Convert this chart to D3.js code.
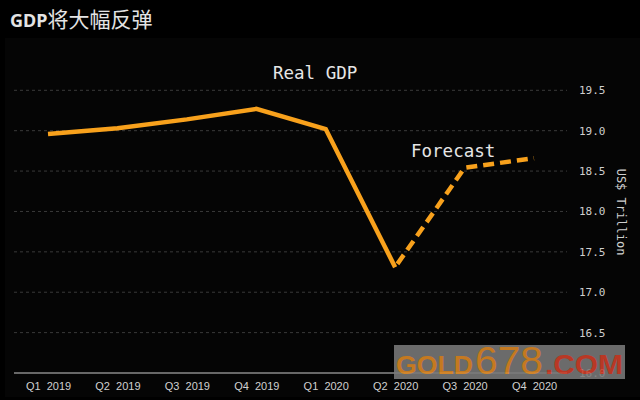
<!DOCTYPE html>
<html>
<head>
<meta charset="utf-8">
<script src="https://cdn.jsdelivr.net/npm/d3@7"></script>
<style>
  html, body { margin: 0; padding: 0; background: #000; }
  svg { display: block; }
</style>
</head>
<body>
<svg id="chart" width="640" height="400"></svg>
<script>
// ---- data ----
const quarters = ["Q1 2019", "Q2 2019", "Q3 2019", "Q4 2019", "Q1 2020", "Q2 2020", "Q3 2020", "Q4 2020"];
const actualQuarters = ["Q1 2019", "Q2 2019", "Q3 2019", "Q4 2019", "Q1 2020", "Q2 2020"];
const actualValues = [18.96, 19.03, 19.14, 19.27, 19.02, 17.31];
const forecastQuarters = ["Q2 2020", "Q3 2020", "Q4 2020"];
const forecastValues = [17.31, 18.54, 18.66];
const yTicks = [16.0, 16.5, 17.0, 17.5, 18.0, 18.5, 19.0, 19.5];
const titleLatin = "GDP";
const titleCJK = "将大幅反弹";
const seriesLabel = "Real GDP";
const forecastLabel = "Forecast";
const yAxisTitle = "US$ Trillion";

// ---- layout ----
const svg = d3.select("#chart");
const W = 640, H = 400;
const plotLeft = 14, plotRight = 567, plotTop = 90.3, plotBottom = 373;
const orange = "#f8a11c";

svg.append("rect").attr("width", W).attr("height", H).attr("fill", "#000");
svg.append("rect").attr("x", 5).attr("y", 38).attr("width", W - 5).attr("height", 359).attr("fill", "#050505");

const x = d3.scalePoint().domain(quarters).range([48, 534]);
const y = d3.scaleLinear().domain([16, 19.5]).range([plotBottom, plotTop]);

// grid lines
svg.append("g")
  .selectAll("line")
  .data(yTicks.filter(d => d > 16))
  .join("line")
  .attr("x1", plotLeft).attr("x2", plotRight)
  .attr("y1", d => y(d)).attr("y2", d => y(d))
  .attr("stroke", "#3a3a3a")
  .attr("stroke-width", 1)
  .attr("stroke-dasharray", "3,3");

// baseline axis line
svg.append("line")
  .attr("x1", plotLeft).attr("x2", plotRight)
  .attr("y1", y(16)).attr("y2", y(16))
  .attr("stroke", "#8a8a8a").attr("stroke-width", 1.5);

// y axis (right)
const yAxis = svg.append("g")
  .attr("transform", `translate(${plotRight},0)`)
  .call(d3.axisRight(y).tickValues(yTicks).tickFormat(d3.format(".1f")).tickSize(0).tickPadding(12));
yAxis.select(".domain").remove();
yAxis.selectAll("text")
  .attr("fill", "#cfcfcf")
  .style("font-family", "'DejaVu Sans Mono', monospace")
  .style("font-size", "11px");

// x axis
const xAxis = svg.append("g")
  .attr("transform", `translate(0,${plotBottom})`)
  .call(d3.axisBottom(x).tickSize(0).tickPadding(9).tickFormat(d => d.replace(" ", "  ")));
xAxis.select(".domain").remove();
xAxis.selectAll("text")
  .attr("fill", "#d0d0d0")
  .style("white-space", "pre")
  .style("font-family", "'Liberation Sans', Arial, sans-serif")
  .style("font-size", "11px");

// y axis title
svg.append("text")
  .attr("transform", "translate(617,212) rotate(90)")
  .attr("text-anchor", "middle")
  .attr("fill", "#cfcfcf")
  .style("font-family", "'DejaVu Sans Mono', monospace")
  .style("font-size", "12px")
  .text(yAxisTitle);

// lines
const line = d3.line().x(d => x(d[0])).y(d => y(d[1]));
svg.append("path")
  .datum(actualQuarters.map((q, i) => [q, actualValues[i]]))
  .attr("d", line)
  .attr("fill", "none")
  .attr("stroke", orange)
  .attr("stroke-width", 4.5)
  .attr("stroke-linejoin", "miter");
svg.append("path")
  .datum(forecastQuarters.map((q, i) => [q, forecastValues[i]]))
  .attr("d", line)
  .attr("fill", "none")
  .attr("stroke", orange)
  .attr("stroke-width", 4.5)
  .attr("stroke-dasharray", "11,6")
  .attr("stroke-dashoffset", -4);

// annotations
svg.append("text")
  .attr("x", 273).attr("y", 79)
  .attr("fill", "#e6e6e6")
  .style("font-family", "'DejaVu Sans Mono', monospace")
  .style("font-size", "17.5px")
  .text(seriesLabel);
svg.append("text")
  .attr("x", 411).attr("y", 157)
  .attr("fill", "#e6e6e6")
  .style("font-family", "'DejaVu Sans Mono', monospace")
  .style("font-size", "17.5px")
  .text(forecastLabel);

// title
const title = svg.append("text")
  .attr("x", 10).attr("y", 27)
  .attr("fill", "#e4e4e4");
title.append("tspan")
  .style("font-family", "'Noto Sans', 'DejaVu Sans', sans-serif")
  .style("font-weight", "bold")
  .style("font-size", "18px")
  .text(titleLatin);
title.append("tspan")
  .style("font-family", "'Noto Sans CJK SC', sans-serif")
  .style("font-size", "21px")
  .text(titleCJK);

// watermark
const wm = svg.append("g").attr("opacity", 0.88);
wm.append("rect").attr("x", 394).attr("y", 345).attr("width", 231).attr("height", 34).attr("fill", "#7a7a7a");
const wmFont = "'Liberation Sans', Arial, sans-serif";
wm.append("text").attr("x", 396).attr("y", 374)
  .attr("textLength", 77).attr("lengthAdjust", "spacingAndGlyphs")
  .attr("fill", "#e08a24").style("font-family", wmFont).style("font-weight", "bold").style("font-size", "26px")
  .text("GOLD");
wm.append("text").attr("x", 475).attr("y", 374)
  .attr("textLength", 68).attr("lengthAdjust", "spacingAndGlyphs")
  .attr("fill", "#e08a24").style("font-family", wmFont).style("font-size", "38px")
  .text("678");
wm.append("text").attr("x", 545).attr("y", 374)
  .attr("textLength", 78).attr("lengthAdjust", "spacingAndGlyphs")
  .attr("fill", "#d2402a").style("font-family", wmFont).style("font-weight", "bold").style("font-size", "28px")
  .text(".COM");
</script>
</body>
</html>
